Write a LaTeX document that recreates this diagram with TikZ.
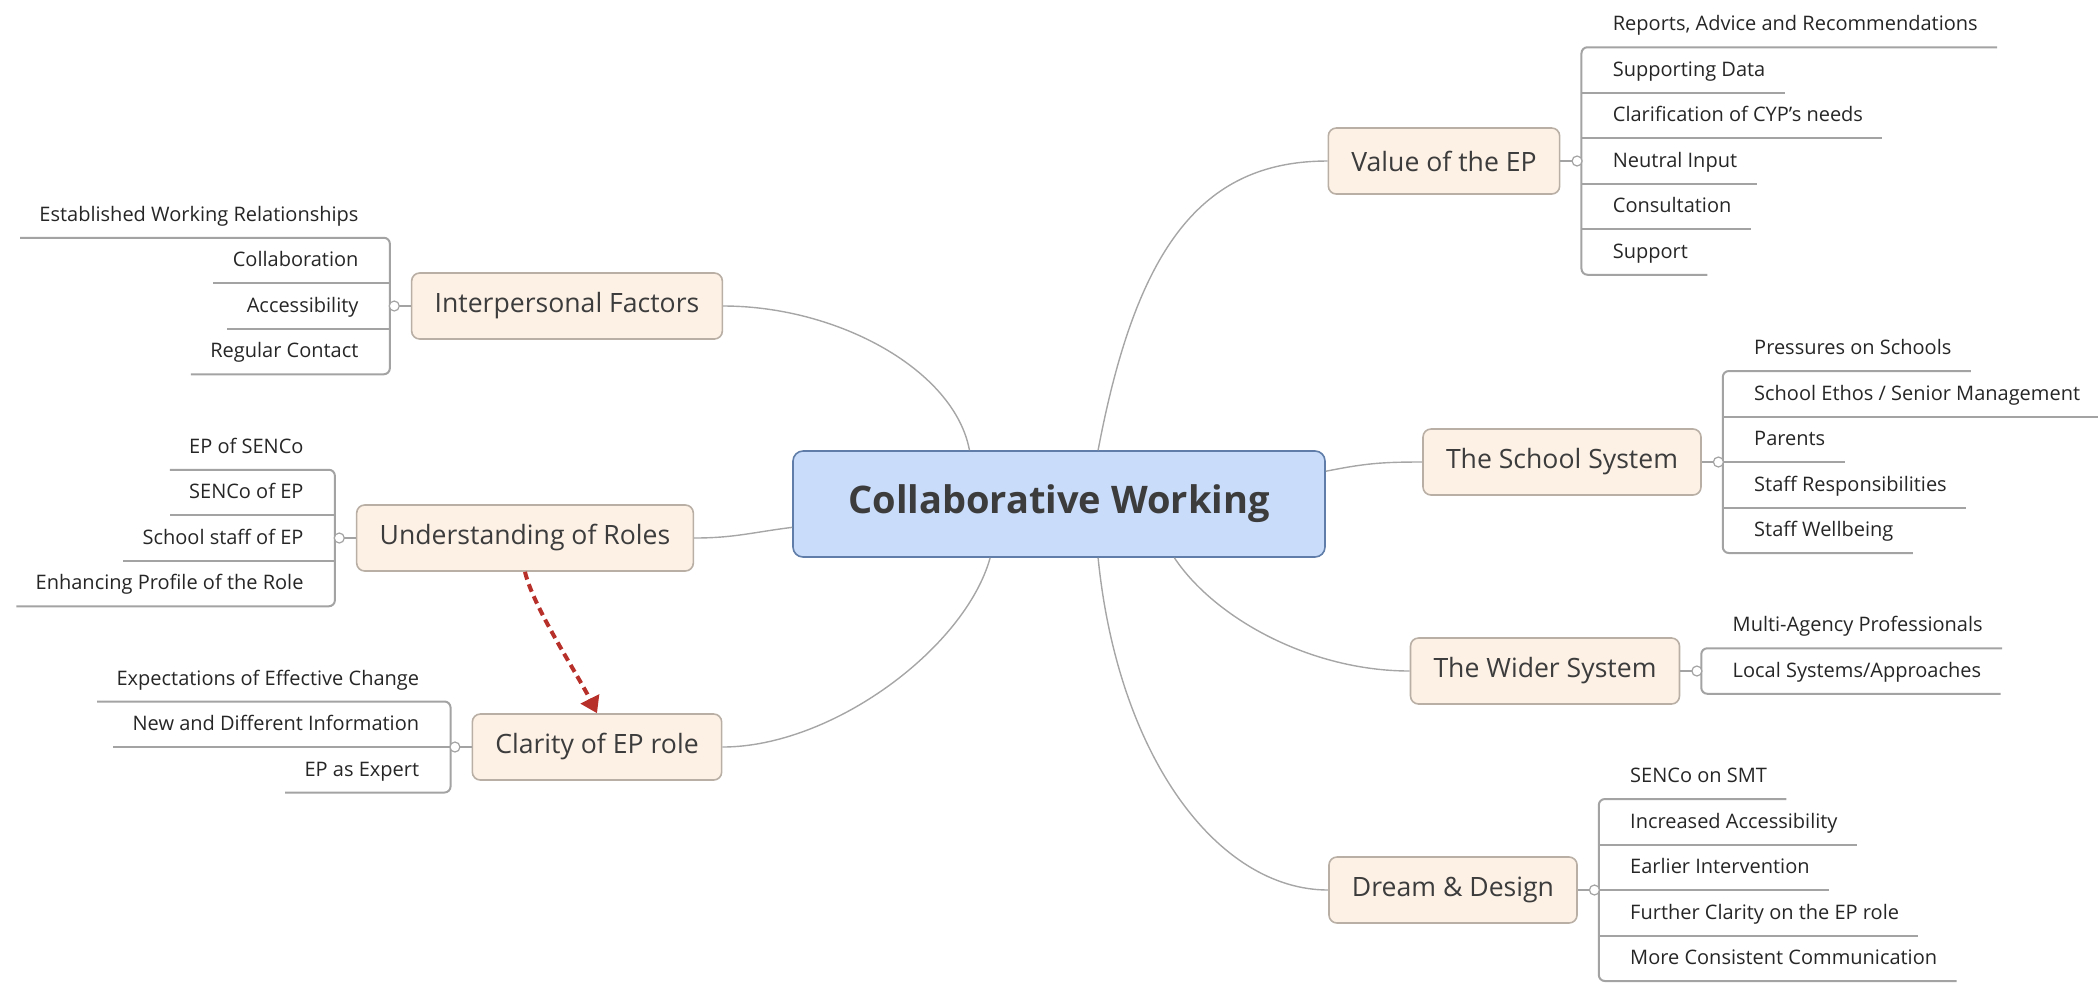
\documentclass[tikz,border=0pt]{standalone}
\usepackage{fontspec}
\setmainfont{Open Sans}
\usetikzlibrary{positioning, arrows.meta}

\definecolor{cwfill}{HTML}{C9DCF9}
\definecolor{cwline}{HTML}{5F7DA8}
\definecolor{tpfill}{HTML}{FDF1E6}
\definecolor{tpline}{HTML}{B9AFA4}
\definecolor{txt}{HTML}{3C3C3C}
\definecolor{leaftxt}{HTML}{262626}
\definecolor{linkc}{HTML}{A6A6A6}
\definecolor{stemc}{HTML}{A3A3A3}
\definecolor{hintred}{HTML}{B8302A}

\begin{document}
\begin{tikzpicture}[x=0.5pt, y=-0.5pt,
    centre/.style={draw=cwline, fill=cwfill, rounded corners=5pt, line width=0.8pt,
      minimum width=266pt, minimum height=53pt, text=txt,
      font=\fontsize{19}{22}\selectfont\bfseries},
    topic/.style={draw=tpline, fill=tpfill, rounded corners=4pt, line width=0.8pt,
      minimum height=33pt, inner xsep=11.5pt, text=txt,
      font=\fontsize{13.3}{16}\selectfont},
    leaf/.style={inner xsep=9.5pt, inner ysep=5.5pt, text height=7.5pt, text depth=2.5pt,
      text=leaftxt, font=\fontsize{10}{12}\selectfont},
    knob/.style={circle, draw=stemc, fill=white, line width=0.6pt, inner sep=0pt, minimum size=5pt},
    link/.style={draw=linkc, line width=0.7pt},
    stem/.style={draw=stemc, line width=1pt, rounded corners=3pt},
    hint/.style={draw=hintred, line width=2pt, dash pattern=on 4pt off 2.5pt,
      -{Triangle[width=10pt,length=8pt]}}]

    \useasboundingbox (0,0) rectangle (2098,982);

    \node[centre] (cw) at (1059,504) {Collaborative Working};

    \node[topic] (value) [on grid, above right=171.5pt and 192.5pt of cw] {Value of the EP};
    \node[topic] (inter) [on grid, above left=99pt and 246pt of cw] {Interpersonal Factors};
    \node[topic] (school) [on grid, above right=21pt and 251.5pt of cw] {The School System};
    \node[topic] (under) [on grid, below left=17pt and 267pt of cw] {Understanding of Roles};
    \node[topic] (wider) [on grid, below right=83.5pt and 243pt of cw] {The Wider System};
    \node[topic] (clarity) [on grid, below left=121.5pt and 231pt of cw] {Clarity of EP role};
    \node[topic] (dream) [on grid, below right=193pt and 197pt of cw] {Dream \& Design};

    \path[link]
    (cw.54) .. controls +(38,-201) and +(-127,0) .. (value.west)
    (cw.149.5) .. controls +(-15,-80) and +(115,0) .. (inter.east)
    (cw.7) .. controls +(40,-8) and +(-40,0) .. (school.west)
    (cw.185) .. controls +(-40,5) and +(40,0) .. (under.east)
    (cw.-25) .. controls +(40,60) and +(-100,0) .. (wider.west)
    (cw.-142.5) .. controls +(-25,90) and +(110,0) .. (clarity.east)
    (cw.-54) .. controls +(20,200) and +(-110,0) .. (dream.west);

    % Value of the EP
    \coordinate[right=10.5pt of value.east] (vb);
    \node[leaf] (v1) [above right=56.875pt and 6pt of vb] {Reports, Advice and Recommendations};
    \node[leaf] (v2) [below=22.75pt of v1.south west, anchor=south west] {Supporting Data};
    \node[leaf] (v3) [below=22.75pt of v2.south west, anchor=south west] {Clarification of CYP's needs};
    \node[leaf] (v4) [below=22.75pt of v3.south west, anchor=south west] {Neutral Input};
    \node[leaf] (v5) [below=22.75pt of v4.south west, anchor=south west] {Consultation};
    \node[leaf] (v6) [below=22.75pt of v5.south west, anchor=south west] {Support};
    \draw[stem] (v1.south east) -- (vb |- v1.south) -- (vb |- v6.south) -- (v6.south east);
    \draw[stem] (vb |- v2.south) -- (v2.south east) (vb |- v3.south) -- (v3.south east)
                (vb |- v4.south) -- (v4.south east) (vb |- v5.south) -- (v5.south east);
    \draw[stem] (value.east) -- (vb);
    \node[knob] (vk) [on grid, right=5.5pt of value.east] {};

    % The School System
    \coordinate[right=10.5pt of school.east] (sb);
    \node[leaf] (s1) [above right=45.5pt and 6pt of sb] {Pressures on Schools};
    \node[leaf] (s2) [below=22.75pt of s1.south west, anchor=south west] {School Ethos / Senior Management};
    \node[leaf] (s3) [below=22.75pt of s2.south west, anchor=south west] {Parents};
    \node[leaf] (s4) [below=22.75pt of s3.south west, anchor=south west] {Staff Responsibilities};
    \node[leaf] (s5) [below=22.75pt of s4.south west, anchor=south west] {Staff Wellbeing};
    \draw[stem] (s1.south east) -- (sb |- s1.south) -- (sb |- s5.south) -- (s5.south east);
    \draw[stem] (sb |- s2.south) -- (s2.south east) (sb |- s3.south) -- (s3.south east)
                (sb |- s4.south) -- (s4.south east);
    \draw[stem] (school.east) -- (sb);
    \node[knob] (sk) [on grid, right=5.5pt of school.east] {};

    % The Wider System
    \coordinate[right=10.5pt of wider.east] (wb);
    \node[leaf] (w1) [above right=11.375pt and 6pt of wb] {Multi-Agency Professionals};
    \node[leaf] (w2) [below=22.75pt of w1.south west, anchor=south west] {Local Systems/Approaches};
    \draw[stem] (w1.south east) -- (wb |- w1.south) -- (wb |- w2.south) -- (w2.south east);
    \draw[stem] (wider.east) -- (wb);
    \node[knob] (wk) [on grid, right=5.5pt of wider.east] {};

    % Dream & Design
    \coordinate[right=10.5pt of dream.east] (db);
    \node[leaf] (d1) [above right=45.5pt and 6pt of db] {SENCo on SMT};
    \node[leaf] (d2) [below=22.75pt of d1.south west, anchor=south west] {Increased Accessibility};
    \node[leaf] (d3) [below=22.75pt of d2.south west, anchor=south west] {Earlier Intervention};
    \node[leaf] (d4) [below=22.75pt of d3.south west, anchor=south west] {Further Clarity on the EP role};
    \node[leaf] (d5) [below=22.75pt of d4.south west, anchor=south west] {More Consistent Communication};
    \draw[stem] (d1.south east) -- (db |- d1.south) -- (db |- d5.south) -- (d5.south east);
    \draw[stem] (db |- d2.south) -- (d2.south east) (db |- d3.south) -- (d3.south east)
                (db |- d4.south) -- (d4.south east);
    \draw[stem] (dream.east) -- (db);
    \node[knob] (dk) [on grid, right=5.5pt of dream.east] {};

    % Interpersonal Factors
    \coordinate[left=10.5pt of inter.west] (ib);
    \node[leaf] (i1) [above left=34.125pt and 6pt of ib] {Established Working Relationships};
    \node[leaf] (i2) [below=22.75pt of i1.south east, anchor=south east] {Collaboration};
    \node[leaf] (i3) [below=22.75pt of i2.south east, anchor=south east] {Accessibility};
    \node[leaf] (i4) [below=22.75pt of i3.south east, anchor=south east] {Regular Contact};
    \draw[stem] (i1.south west) -- (ib |- i1.south) -- (ib |- i4.south) -- (i4.south west);
    \draw[stem] (ib |- i2.south) -- (i2.south west) (ib |- i3.south) -- (i3.south west);
    \draw[stem] (inter.west) -- (ib);
    \node[knob] (ik) [on grid, left=5.5pt of inter.west] {};

    % Understanding of Roles
    \coordinate[left=10.5pt of under.west] (ub);
    \node[leaf] (u1) [above left=34.125pt and 6pt of ub] {EP of SENCo};
    \node[leaf] (u2) [below=22.75pt of u1.south east, anchor=south east] {SENCo of EP};
    \node[leaf] (u3) [below=22.75pt of u2.south east, anchor=south east] {School staff of EP};
    \node[leaf] (u4) [below=22.75pt of u3.south east, anchor=south east] {Enhancing Profile of the Role};
    \draw[stem] (u1.south west) -- (ub |- u1.south) -- (ub |- u4.south) -- (u4.south west);
    \draw[stem] (ub |- u2.south) -- (u2.south west) (ub |- u3.south) -- (u3.south west);
    \draw[stem] (under.west) -- (ub);
    \node[knob] (uk) [on grid, left=5.5pt of under.west] {};

    % Clarity of EP role
    \coordinate[left=10.5pt of clarity.west] (cb);
    \node[leaf] (c1) [above left=22.75pt and 6pt of cb] {Expectations of Effective Change};
    \node[leaf] (c2) [below=22.75pt of c1.south east, anchor=south east] {New and Different Information};
    \node[leaf] (c3) [below=22.75pt of c2.south east, anchor=south east] {EP as Expert};
    \draw[stem] (c1.south west) -- (cb |- c1.south) -- (cb |- c3.south) -- (c3.south west);
    \draw[stem] (cb |- c2.south) -- (c2.south west);
    \draw[stem] (clarity.west) -- (cb);
    \node[knob] (ck) [on grid, left=5.5pt of clarity.west] {};

    \draw[hint] (under.south) .. controls +(8,35) and +(-20,-40) .. (clarity.north);

\end{tikzpicture}
\end{document}
